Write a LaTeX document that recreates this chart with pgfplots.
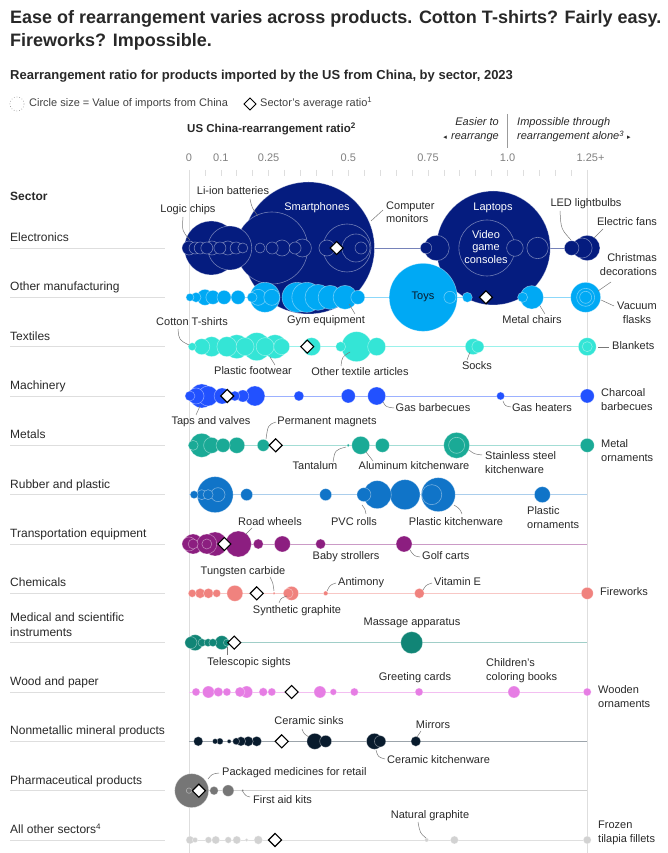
\documentclass[border=0pt]{standalone}
\usepackage{fontspec}
\setmainfont{Liberation Sans}
\newfontfamily\dejavu{DejaVu Sans}
\usepackage{pgfplots}
\pgfplotsset{compat=1.18}
\usepackage{pgfplotstable}

\definecolor{ecol}{RGB}{5,28,127}
\definecolor{omcol}{RGB}{0,169,244}
\definecolor{texcol}{RGB}{52,229,214}
\definecolor{maccol}{RGB}{34,81,255}
\definecolor{metcol}{RGB}{26,170,150}
\definecolor{rubcol}{RGB}{16,116,200}
\definecolor{tracol}{RGB}{140,30,128}
\definecolor{checol}{RGB}{240,130,126}
\definecolor{medcol}{RGB}{17,133,118}
\definecolor{woocol}{RGB}{230,125,228}
\definecolor{noncol}{RGB}{8,27,45}
\definecolor{phacol}{RGB}{118,118,118}
\definecolor{othcol}{RGB}{210,210,210}
\definecolor{txt}{RGB}{40,40,40}
\definecolor{lead}{RGB}{120,120,120}
\definecolor{grid}{RGB}{222,222,222}

\newcommand\ann{\fontsize{11}{13}\selectfont}
\newcommand\seclab{\fontsize{12}{14}\selectfont}

\pgfplotsset{
  bub/.style={scatter, only marks, mark=*,
    scatter/use mapped color={draw=white, fill=#1},
    visualization depends on={\thisrow{r}\as\rr},
    scatter/@pre marker code/.append style={/tikz/mark size=\rr},
    mark options={draw opacity=0.42, line width=0.6pt}},
  rowline/.style={#1, line width=0.9pt},
}

% x = rearrangement ratio, y = sector row, r = bubble radius (pt)
\pgfplotstableread{
x y r
0.375 0 66
0.955 0 57
0.260 0 36
0.935 0 28
0.070 0 27
0.496 0 24
0.128 0 22
0.524 0 14
0.777 0 12.7
1.250 0 12.7
1.094 0 10.7
1.234 0 10
0.356 0 9
1.023 0 8.3
0.433 0 8
0.292 0 8
1.201 0 7.3
0.000 0 7
0.072 0 7
0.122 0 7
0.019 0 6
0.035 0 6
0.056 0 6
0.097 0 6
0.148 0 6
0.261 0 6
0.333 0 6
0.540 0 6
0.744 0 5.7
0.169 0 5
0.223 0 5
}\telec
\pgfplotstableread{
x y r
0.735 1 34
0.2385 1 15
0.339 1 15
0.370 1 15
1.245 1 15
0.405 1 13
0.443 1 12
0.490 1 12
1.076 1 11.7
1.245 1 9
0.050 1 8
0.217 1 8
0.260 1 8
0.075 1 7
0.110 1 7
0.154 1 7
0.530 1 7
0.819 1 6
1.245 1 6
0.022 1 5
0.198 1 5
0.8735 1 5
1.047 1 5
0.003 1 4
}\tom
\pgfplotstableread{
x y r
0.526 2 15
0.2125 2 14
0.150 2 12
0.270 2 12
0.071 2 10
0.119 2 10
0.385 2 9
0.589 2 9
1.250 2 9
0.176 2 9
0.239 2 9
0.040 2 8
0.291 2 8
0.892 2 8
0.907 2 6
1.250 2 5
0.476 2 5
0.010 2 4
}\ttex
\pgfplotstableread{
x y r
0.040 3 12
0.060 3 10
0.207 3 10
0.589 3 9
0.022 3 8
0.104 3 8
0.500 3 7
1.250 3 7
0.169 3 6
0.126 3 5
0.144 3 5
0.345 3 5
0.003 3 5
0.978 3 4
}\tmac
\pgfplotstableread{
x y r
0.840 4 13
0.040 4 12
0.539 4 9
0.840 4 8
0.071 4 8
0.150 4 8
0.107 4 7
0.607 4 7
1.250 4 7
0.233 4 6
0.013 4 5
0.500 4 1.5
}\tmet
\pgfplotstableread{
x y r
0.082 5 18
0.7825 5 17
0.678 5 15
0.591 5 14
0.762 5 10
1.109 5 8
0.091 5 7
0.549 5 7
0.181 5 6
0.429 5 6
0.040 5 5
0.060 5 5
0.016 5 4
}\trub
\pgfplotstableread{
x y r
0.155 6 13
0.082 6 12
0.013 6 10
0.056 6 10
0.293 6 8
0.675 6 8
0.000 6 7
0.013 6 5
0.056 6 5
0.2175 6 5
0.413 6 5
}\ttra
\pgfplotstableread{
x y r
0.144 7 8
0.322 7 7
1.250 7 6
0.035 7 5
0.061 7 5
0.311 7 5
0.723 7 5
0.010 7 4
0.087 7 4
0.429 7 2.3
0.267 7 1.3
}\tche
\pgfplotstableread{
x y r
0.699 8 11
0.019 8 8
0.103 8 7
0.006 8 6
0.041 8 4
0.060 8 4
0.075 8 4
0.119 8 3.5
}\tmed
\pgfplotstableread{
x y r
0.061 9 6
0.181 9 6
0.411 9 6
1.020 9 6
0.160 9 5
0.092 9 4.7
0.233 9 4.3
0.022 9 4
0.119 9 4
0.260 9 4
0.519 9 4
0.722 9 4
1.250 9 4
0.453 9 3.3
}\twoo
\pgfplotstableread{
x y r
0.395 10 8
0.582 10 8
0.429 10 6
0.600 10 5.7
0.712 10 5
0.2125 10 5
0.186 10 5
0.029 10 4.7
0.163 10 4.7
0.148 10 3.5
0.097 10 3.3
0.082 10 2.7
0.126 10 2
}\tnon
\pgfplotstableread{
x y r
0.0085 11 17
0.123 11 5.7
0.0785 11 4.3
0.000 11 2.7
0.1685 11 1.3
}\tpha
\pgfplotstableread{
x y r
0.2175 12 4.3
0.003 12 4
0.084 12 4
0.150 12 4
0.833 12 4
1.250 12 4
0.061 12 3.3
0.123 12 3.3
0.019 12 2.7
0.746 12 2
0.181 12 1.7
}\toth
% sector averages (diamonds)
\pgfplotstableread{
x y
0.4636 0
0.932 1
0.371 2
0.120 3
0.272 4
0.111 6
0.2125 7
0.142 8
0.322 9
0.291 10
0.031 11
0.270 12
}\tavg

\begin{document}
\begin{tikzpicture}
\begin{axis}[
  at={(0pt,0pt)}, anchor=south west,
  scale only axis, width=668pt, height=853pt,
  xmin=-0.5932, xmax=1.5035,
  ymin=-5.027, ymax=12.264, y dir=reverse,
  hide axis, clip=false,
]
% gridlines at 0 and 1.25+
\draw[grid, line width=0.7pt] (axis cs:0,-1.53) -- (axis cs:0,12.264);
\draw[grid, line width=0.7pt] (axis cs:1.25,-1.53) -- (axis cs:1.25,12.264);
% row lines
\addplot[rowline=ecol!55] coordinates {(0,0) (1.25,0)};
\addplot[rowline=omcol!45] coordinates {(0,1) (1.25,1)};
\addplot[rowline=texcol!50] coordinates {(0,2) (1.25,2)};
\addplot[rowline=maccol!45] coordinates {(0,3) (1.25,3)};
\addplot[rowline=metcol!40] coordinates {(0,4) (1.25,4)};
\addplot[rowline=rubcol!35] coordinates {(0,5) (1.25,5)};
\addplot[rowline=tracol!45] coordinates {(0,6) (1.25,6)};
\addplot[rowline=checol!45] coordinates {(0,7) (1.25,7)};
\addplot[rowline=medcol!40] coordinates {(0,8) (1.25,8)};
\addplot[rowline=woocol!50] coordinates {(0,9) (1.25,9)};
\addplot[rowline=noncol!40] coordinates {(0,10) (1.25,10)};
\addplot[rowline=phacol!35] coordinates {(0,11) (1.25,11)};
\addplot[rowline=othcol!70] coordinates {(0,12) (1.25,12)};
% bubbles
\addplot[bub=ecol] table[x=x,y=y] {\telec};
\addplot[bub=omcol] table[x=x,y=y] {\tom};
\addplot[bub=texcol] table[x=x,y=y] {\ttex};
\addplot[bub=maccol] table[x=x,y=y] {\tmac};
\addplot[bub=metcol] table[x=x,y=y] {\tmet};
\addplot[bub=rubcol] table[x=x,y=y] {\trub};
\addplot[bub=tracol] table[x=x,y=y] {\ttra};
\addplot[bub=checol] table[x=x,y=y] {\tche};
\addplot[bub=medcol] table[x=x,y=y] {\tmed};
\addplot[bub=woocol] table[x=x,y=y] {\twoo};
\addplot[bub=noncol] table[x=x,y=y] {\tnon};
\addplot[bub=phacol] table[x=x,y=y] {\tpha};
\addplot[bub=othcol] table[x=x,y=y] {\toth};
% averages
\addplot[only marks, mark=square*, mark size=4.6pt,
  mark options={fill=white, draw=black, line width=1.1pt, rotate=45}]
  table[x=x,y=y] {\tavg};
\end{axis}

% text layer, in pixel units of the reference (origin top left)
\begin{scope}[x=1pt, y=-1pt, yshift=853pt, every node/.style={inner sep=0pt, text=txt}]
% titles
\node[anchor=base west, font=\fontsize{18}{22}\selectfont\bfseries] at (10,24) {Ease of rearrangement varies across products. Cotton T-shirts? Fairly easy.};
\node[anchor=base west, font=\fontsize{18}{22}\selectfont\bfseries] at (10,47) {Fireworks? Impossible.};
\node[anchor=base west, font=\fontsize{13}{15}\selectfont\bfseries] at (10,80) {Rearrangement ratio for products imported by the US from China, by sector, 2023};
% legend
\draw[lead!70, dotted, line width=0.7pt] (17,104) circle (7);
\node[anchor=mid west, font=\ann, text=black!75] at (29,104) {Circle size = Value of imports from China};
\draw[black, line width=1pt, fill=white] (250,98) -- (256,104) -- (250,110) -- (244,104) -- cycle;
\node[anchor=mid west, font=\ann, text=black!75] at (260,104) {Sector’s average ratio\textsuperscript{1}};
% axis header
\node[anchor=base west, font=\fontsize{11.5}{14}\selectfont\bfseries] at (187,133) {US China-rearrangement ratio\textsuperscript{2}};
\node[anchor=base east, font=\ann\itshape] at (499,126) {Easier to};
\node[anchor=base east, font=\ann\itshape] at (499,140) {rearrange};
\node[anchor=base east, font=\dejavu\fontsize{7}{8}\selectfont] at (447,139.5) {◂};
\node[anchor=base west, font=\ann\itshape] at (517,126) {Impossible through};
\node[anchor=base west, font=\ann\itshape] at (517,140) {rearrangement alone\textsuperscript{3}};
\node[anchor=base west, font=\dejavu\fontsize{7}{8}\selectfont] at (627,139.5) {▸};
\draw[grid!70!black, line width=0.8pt] (507.6,114) -- (507.6,148);
% tick labels and minor ticks
\foreach \v/\l in {0/0, 0.1/0.1, 0.25/0.25, 0.5/0.5, 0.75/0.75, 1.0/1.0}
  \node[anchor=base, font=\ann, text=black!50] at (189+318.6*\v,162) {\l};
\node[anchor=base, font=\ann, text=black!50] at (587.3,162) {1.25\rlap{+}};
\foreach \i in {0,...,25}
  \draw[grid, line width=0.7pt] (189+15.93*\i,170) -- ++(0,6);
% sector column
\node[anchor=base west, font=\seclab\bfseries] at (10,201) {Sector};
\foreach \yy/\name in {248/Electronics, 297.3/Other manufacturing, 346.7/Textiles, 396/Machinery,
   445.3/Metals, 494.7/Rubber and plastic, 544/Transportation equipment, 593.3/Chemicals,
   692/Wood and paper, 741.3/Nonmetallic mineral products, 790.7/Pharmaceutical products} {
  \node[anchor=base west, font=\seclab] at (10,\yy-6.5) {\name};
  \draw[grid, line width=0.8pt] (10,\yy) -- (165,\yy);
}
\node[anchor=base west, font=\seclab] at (10,622) {Medical and scientific};
\node[anchor=base west, font=\seclab] at (10,636.5) {instruments};
\draw[grid, line width=0.8pt] (10,642.7) -- (165,642.7);
\node[anchor=base west, font=\seclab] at (10,833.5) {All other sectors\textsuperscript{4}};
\draw[grid, line width=0.8pt] (10,840) -- (165,840);

% annotations
\begin{scope}[every node/.append style={font=\ann}]
\draw[lead, line width=0.5pt] (183,217) .. controls (182,231) .. (190,240);
\node[anchor=mid] at (188,210) {Logic chips};
\draw[lead, line width=0.5pt] (250,199) .. controls (252,208) .. (258,216);
\node[anchor=mid] at (233,192) {Li-ion batteries};
\node[anchor=mid, text=white] at (317,208) {Smartphones};
\node[anchor=mid west] at (386,207) {Computer};
\node[anchor=mid west] at (386,220) {monitors};
\draw[lead, line width=0.5pt] (383,210) -- (371,221);
\node[anchor=mid, text=white] at (493,208) {Laptops};
\node[anchor=mid, text=white] at (486,236) {Video};
\node[anchor=mid, text=white] at (486,248) {game};
\node[anchor=mid, text=white] at (486,261) {consoles};
\draw[lead, line width=0.5pt] (560,211) .. controls (561,229) .. (571,240);
\node[anchor=mid] at (586,204) {LED lightbulbs};
\draw[lead, line width=0.5pt] (603,229) -- (594,238);
\node[anchor=mid] at (627,223) {Electric fans};
\node[anchor=mid east] at (657,259) {Christmas};
\node[anchor=mid east] at (657,273) {decorations};
\draw[lead, line width=0.5pt] (611,282) -- (598,291);
\node[anchor=mid] at (637,307) {Vacuum};
\node[anchor=mid] at (637,321) {flasks};
\draw[lead, line width=0.5pt] (614,306) -- (601,300);
\draw[lead, line width=0.5pt] (545,314) -- (540,306);
\node[anchor=mid] at (532,321) {Metal chairs};
\draw[lead, line width=0.5pt] (355,314) -- (349,304);
\node[anchor=mid] at (326,321) {Gym equipment};
\node[anchor=mid, text=noncol] at (423,297) {Toys};
% textiles
\draw[lead, line width=0.5pt] (178,329) .. controls (179,340) .. (189,345);
\node[anchor=mid] at (192,323) {Cotton T-shirts};
\draw[lead, line width=0.5pt] (275,365) -- (270,357);
\node[anchor=mid] at (253,372) {Plastic footwear};
\draw[lead, line width=0.5pt] (341,366) .. controls (342,357) .. (350,352);
\node[anchor=mid] at (360,373) {Other textile articles};
\draw[lead, line width=0.5pt] (467,360) -- (470,352);
\node[anchor=mid] at (477,367) {Socks};
\draw[lead, line width=0.5pt] (598,347) -- (609,347);
\node[anchor=mid west] at (612,347) {Blankets};
% machinery
\draw[lead, line width=0.5pt] (196,415) -- (200,406);
\node[anchor=mid] at (211,422) {Taps and valves};
\draw[lead, line width=0.5pt] (383,402) .. controls (386,407) .. (394,408);
\node[anchor=mid] at (433,409) {Gas barbecues};
\draw[lead, line width=0.5pt] (503,401) .. controls (505,406) .. (511,407);
\node[anchor=mid] at (542,409) {Gas heaters};
\node[anchor=mid west] at (601,394) {Charcoal};
\node[anchor=mid west] at (601,408) {barbecues};
% metals
\draw[lead, line width=0.5pt] (276,422) .. controls (268,425) .. (266,439);
\node[anchor=mid] at (327,422) {Permanent magnets};
\draw[lead, line width=0.5pt] (333,462) .. controls (335,450) .. (346,447);
\node[anchor=mid] at (315,467) {Tantalum};
\draw[lead, line width=0.5pt] (373,461) -- (366,452);
\node[anchor=mid] at (414,467) {Aluminum kitchenware};
\draw[lead, line width=0.5pt] (469,450) .. controls (474,454) .. (482,455);
\node[anchor=mid west] at (485,457) {Stainless steel};
\node[anchor=mid west] at (485,471) {kitchenware};
\node[anchor=mid west] at (601,445) {Metal};
\node[anchor=mid west] at (601,459) {ornaments};
% rubber and plastic
\draw[lead, line width=0.5pt] (366,514) .. controls (365,509) .. (362,505);
\node[anchor=mid] at (354,523) {PVC rolls};
\draw[lead, line width=0.5pt] (462,514) .. controls (460,509) .. (454,505);
\node[anchor=mid] at (456,523) {Plastic kitchenware};
\node[anchor=mid west] at (527,512) {Plastic};
\node[anchor=mid west] at (527,526) {ornaments};
% transportation
\draw[lead, line width=0.5pt] (252,528) -- (246,534);
\node[anchor=mid] at (270,523) {Road wheels};
\node[anchor=mid] at (346,557) {Baby strollers};
\draw[lead, line width=0.5pt] (420,557) .. controls (414,556) .. (410,550);
\node[anchor=mid west] at (422,557) {Golf carts};
% chemicals
\draw[lead, line width=0.5pt] (270,577) .. controls (273,583) .. (274,591);
\node[anchor=mid] at (243,572) {Tungsten carbide};
\draw[lead, line width=0.5pt] (279,603) .. controls (281,598) .. (287,596);
\node[anchor=mid] at (297,611) {Synthetic graphite};
\draw[lead, line width=0.5pt] (336,583) .. controls (330,585) .. (327,591);
\node[anchor=mid west] at (338,583) {Antimony};
\draw[lead, line width=0.5pt] (432,583) .. controls (426,585) .. (423,590);
\node[anchor=mid west] at (434,583) {Vitamin E};
\node[anchor=mid west] at (600,593) {Fireworks};
% medical
\node[anchor=mid] at (412,623) {Massage apparatus};
\draw[lead, line width=0.5pt] (227,655) -- (227,647);
\node[anchor=mid] at (249,663) {Telescopic sights};
% wood and paper
\node[anchor=mid] at (415,678) {Greeting cards};
\node[anchor=mid west] at (486,664) {Children’s};
\node[anchor=mid west] at (486,678) {coloring books};
\node[anchor=mid west] at (598,691) {Wooden};
\node[anchor=mid west] at (598,705) {ornaments};
% nonmetallic
\draw[lead, line width=0.5pt] (302,729) .. controls (304,734) .. (309,737);
\node[anchor=mid] at (309,722) {Ceramic sinks};
\draw[lead, line width=0.5pt] (421,731) -- (417,737);
\node[anchor=mid] at (433,726) {Mirrors};
\draw[lead, line width=0.5pt] (385,759) .. controls (378,757) .. (376,750);
\node[anchor=mid west] at (387,761) {Ceramic kitchenware};
% pharmaceutical
\draw[lead, line width=0.5pt] (219,773) .. controls (212,774) .. (208,779);
\node[anchor=mid west] at (222,773) {Packaged medicines for retail};
\draw[lead, line width=0.5pt] (250,797) .. controls (246,796) .. (243,792);
\node[anchor=mid west] at (253,801) {First aid kits};
% all other
\draw[lead, line width=0.5pt] (418,822) .. controls (420,833) .. (426,838);
\node[anchor=mid] at (430,816) {Natural graphite};
\node[anchor=mid west] at (598,826) {Frozen};
\node[anchor=mid west] at (598,840) {tilapia fillets};
\end{scope}
\end{scope}
\pgfresetboundingbox
\path[use as bounding box] (0,0) rectangle (668pt,853pt);
\end{tikzpicture}
\end{document}
